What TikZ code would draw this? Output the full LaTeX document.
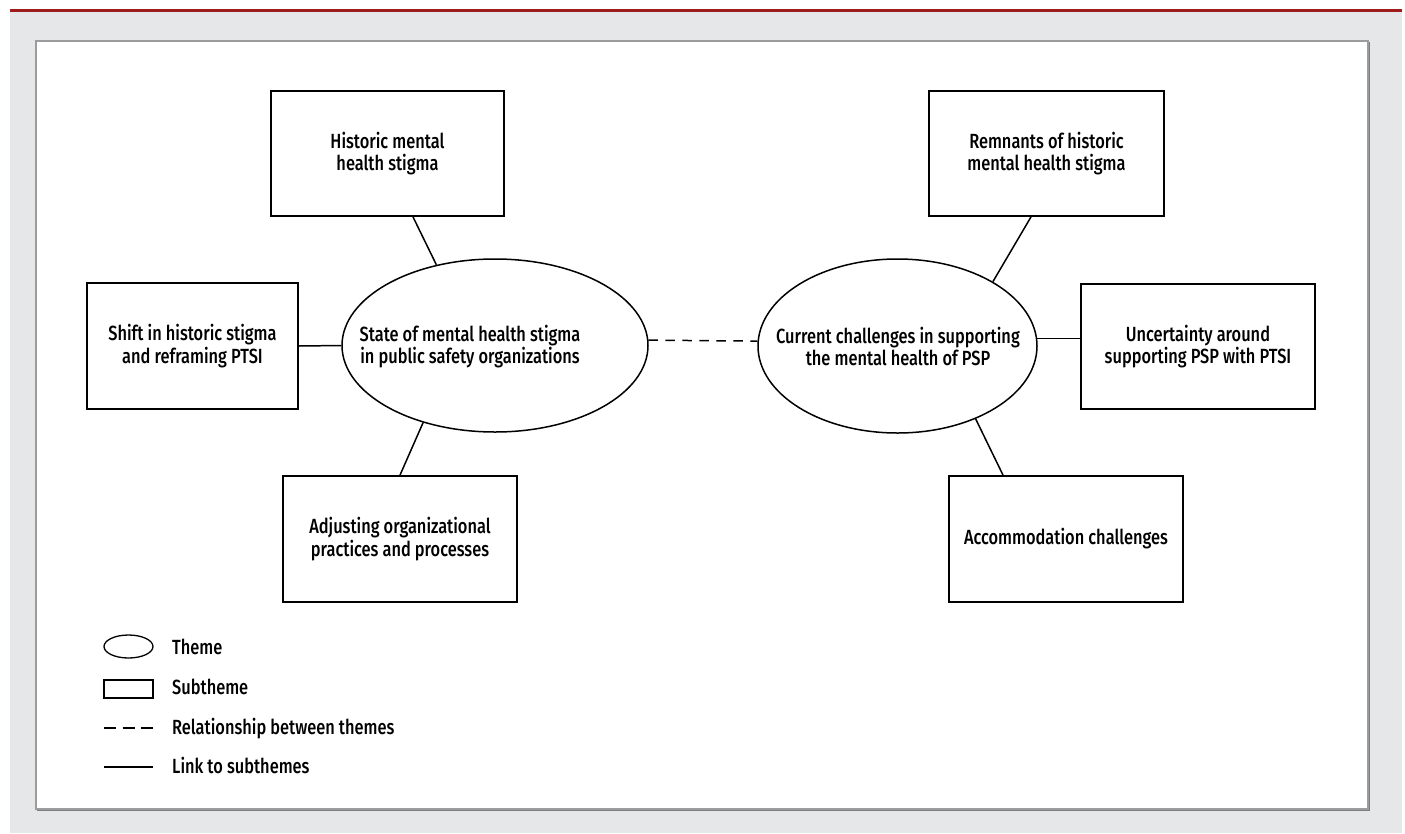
\documentclass[tikz,border=0pt]{standalone}
\usepackage{fontspec}
\setmainfont{Fira Sans}[UprightFont={* Medium}, FakeStretch=0.8]
\usetikzlibrary{shapes.geometric}
\definecolor{bggray}{HTML}{E6E7E8}
\definecolor{topred}{HTML}{9E1B1B}
\definecolor{panelgray}{HTML}{9C9C9E}
\tikzset{
  txt/.style={font=\fontsize{20.5}{22.5}\selectfont, align=center, inner sep=0pt},
  subbox/.style={txt, draw=black, line width=1.8pt, minimum width=#1, inner sep=0pt},
  theme/.style={draw=black, line width=1.5pt, ellipse, inner sep=0pt},
  link/.style={draw=black, line width=1.5pt},
  rel/.style={draw=black, line width=1.5pt, dash pattern=on 9.5pt off 7.5pt},
  legtxt/.style={font=\fontsize{20.5}{22.5}\selectfont, anchor=base west, inner sep=0pt},
}
\begin{document}
\begin{tikzpicture}[x=1pt,y=-1pt]
\useasboundingbox (0,0) rectangle (1405,833);
\fill[bggray] (10,12) rectangle (1402,833);
\fill[topred] (10,9.3) rectangle (1402,11.8);
\draw[panelgray!80!black, line width=1.2pt] (37.5,42.5) rectangle (1369,810);
\filldraw[fill=white, draw=panelgray, line width=1.5pt] (36,41) rectangle (1368,809);

% subthemes
\node[subbox=233, minimum height=125] (b1) at (387.5,153.5) {Historic mental\\health stigma};
\node[subbox=211, minimum height=126] (b2) at (192.5,346) {Shift in historic stigma\\and reframing PTSI};
\node[subbox=234, minimum height=126] (b3) at (400,539) {Adjusting organizational\\practices and processes};
\node[subbox=235, minimum height=125] (b4) at (1046.5,153.5) {Remnants of historic\\mental health stigma};
\node[subbox=234, minimum height=125] (b5) at (1198,346.5) {Uncertainty around\\supporting PSP with PTSI};
\node[subbox=234, minimum height=126] (b6) at (1066,539) {Accommodation challenges};

% themes
\node[theme, minimum width=306, minimum height=173] (e1) at (495,345.5) {};
\node[txt] (t1) at (470,346.5) {State of mental health stigma\\in public safety organizations};
\node[theme, minimum width=279, minimum height=174] (e2) at (897.5,346) {};
\node[txt] (t2) at (898,346.5) {Current challenges in supporting\\the mental health of PSP};

% links
\draw[link] ([xshift=25.5pt]b1.south) -- (e1.126);
\draw[link] (b2.east) -- (e1.west);
\draw[link] (b3.north) -- (e1.227);
\draw[link] (e2.34) -- ([xshift=-15.5pt]b4.south);
\draw[link] (e2.3) -- (e2.3 -| b5.west);
\draw[link] (e2.317) -- ([xshift=-63pt]b6.north);
\draw[rel] (e1.2) -- (e2.178);

% legend
\node[draw=black, line width=1.3pt, ellipse, inner sep=0pt, minimum width=49, minimum height=23] (le) at (128.5,646.5) {};
\node[legtxt] (lt1) at (172,654) {Theme};
\node[draw=black, line width=1.5pt, inner sep=0pt, minimum width=49, minimum height=18] (lr) at (128.5,689) {};
\node[legtxt] (lt2) at (172,694) {Subtheme};
\coordinate (ld1) at (104,728);
\coordinate (ld2) at (153,728);
\draw[line width=1.5pt, dash pattern=on 12pt off 6.5pt] (ld1) -- (ld2);
\node[legtxt] (lt3) at (172,734) {Relationship between themes};
\coordinate (ls1) at (104,767);
\coordinate (ls2) at (153,767);
\draw[link] (ls1) -- (ls2);
\node[legtxt] (lt4) at (172,773) {Link to subthemes};
\end{tikzpicture}
\end{document}
